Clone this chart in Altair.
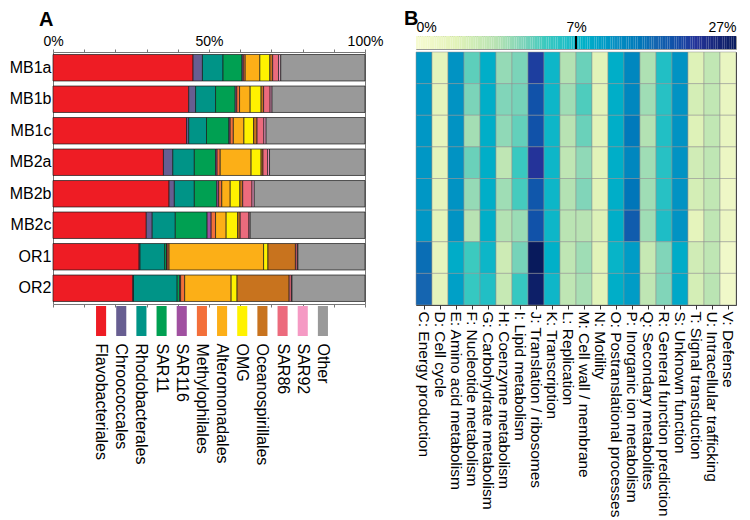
import altair as alt
import pandas as pd
import numpy as np

FONT = "Liberation Sans"

# ---------------- Panel A data ----------------
samples = ["MB1a", "MB1b", "MB1c", "MB2a", "MB2b", "MB2c", "OR1", "OR2"]
taxa = ["Flavobacteriales", "Chroococcales", "Rhodobacterales", "SAR11", "SAR116",
        "Methylophilales", "Alteromonadales", "OMG", "Oceanospirillales", "SAR86",
        "SAR92", "Other"]
taxon_colors = ["#ee1c24", "#675e91", "#009487", "#00a052", "#a050a0", "#f36f3a",
                "#fcaf17", "#fff200", "#c8731e", "#ec6b7d", "#f59ac4", "#999999"]

flavo = [44.9, 43.5, 42.8, 35.4, 37.2, 29.9, 27.6, 25.6]
chroo = [3.0, 2.2, 0.7, 3.0, 1.7, 1.9, 0.3, 0.2]
rhodo = [6.6, 6.4, 5.7, 6.9, 6.4, 7.4, 7.9, 14.0]
sar11 = [6.1, 6.3, 7.2, 6.8, 7.2, 10.2, 0.6, 0.8]
sar116 = [0.4, 0.5, 0.4, 0.5, 0.6, 1.3, 0.2, 0.3]
methyl = [0.6, 0.9, 1.0, 1.0, 1.0, 1.4, 0.6, 1.3]
altero = [4.7, 3.4, 3.4, 9.9, 2.7, 3.4, 30.3, 14.9]
omg = [3.2, 3.5, 3.1, 3.2, 3.1, 3.7, 1.4, 1.9]
oceano = [0.9, 0.8, 1.1, 0.6, 0.9, 0.8, 8.8, 16.7]
sar86 = [1.9, 2.1, 2.2, 1.5, 3.0, 2.8, 0.6, 0.7]
sar92 = [0.7, 0.6, 0.7, 0.6, 0.7, 0.4, 0.2, 0.2]
other = [27.0, 29.8, 31.7, 30.6, 35.5, 36.8, 21.5, 23.4]

series = [flavo, chroo, rhodo, sar11, sar116, methyl, altero, omg, oceano, sar86, sar92, other]

x_ticks = [0, 10, 20, 30, 40, 50, 60, 70, 80, 90, 100]

# ---------------- Panel B data ----------------
cogs = ["C: Energy production", "D: Cell cycle", "E: Amino acid metabolism",
        "F: Nucleotide metabolism", "G: Carbohydrate metabolism", "H: Coenzyme metabolism",
        "I: Lipid metabolism", "J: Translation / ribosomes", "K: Transcription",
        "L: Replication", "M: Cell wall / membrane", "N: Motility",
        "O: Postranslational processes", "P: Inorganic ion metabolism",
        "Q: Secondary metabolites", "R: General function prediction",
        "S: Unknown function", "T: Signal transduction", "U: Intracellular trafficking",
        "V: Defense"]

cog_C = [11, 11, 11, 11, 11, 11, 16, 17]
cog_D = [1.5, 1.5, 1.4, 1.5, 1.5, 1.6, 1.4, 1.5]
cog_E = [11.5, 11.5, 11.5, 11.5, 11.5, 11.5, 8.5, 10]
cog_F = [5.2, 4.7, 3.9, 5.0, 4.2, 3.5, 5.6, 5.8]
cog_G = [8.2, 8.2, 8.2, 8.2, 8.2, 8.2, 7.3, 6.5]
cog_H = [4.2, 4.6, 4.3, 3.2, 4.0, 3.6, 2.6, 2.9]
cog_I = [4.7, 4.8, 5.1, 5.7, 5.5, 4.1, 4.8, 5.8]
cog_J = [21, 19, 19, 22, 18.5, 19, 27, 26]
cog_K = [7.3, 7.3, 7.3, 7.3, 7.3, 7.3, 8.0, 7.2]
cog_L = [3.6, 4.0, 3.5, 3.2, 3.6, 3.4, 3.2, 3.2]
cog_M = [5.0, 5.4, 5.0, 4.3, 4.6, 3.5, 4.0, 3.8]
cog_N = [1.8, 1.8, 1.8, 1.8, 1.8, 2.0, 1.8, 1.8]
cog_O = [8.3, 8.3, 8.3, 8.3, 8.3, 8.3, 7.5, 8.3]
cog_P = [13, 13, 14.5, 13, 15, 18, 10.5, 10.5]
cog_Q = [3.7, 4.0, 3.6, 4.0, 4.0, 4.0, 2.9, 3.2]
cog_R = [6.5, 6.3, 6.5, 6.3, 6.3, 6.6, 4.6, 4.6]
cog_S = [11.5, 11.5, 11.5, 11.5, 11.5, 11.5, 8.5, 9]
cog_T = [1.9, 2.3, 1.9, 2.5, 2.3, 1.5, 2.5, 2.3]
cog_U = [3.1, 3.1, 3.1, 3.2, 3.1, 3.2, 3.2, 3.4]
cog_V = [1.2, 1.2, 1.2, 1.0, 0.8, 1.0, 0.6, 0.6]

cog_series = [cog_C, cog_D, cog_E, cog_F, cog_G, cog_H, cog_I, cog_J, cog_K, cog_L,
              cog_M, cog_N, cog_O, cog_P, cog_Q, cog_R, cog_S, cog_T, cog_U, cog_V]

heat_domain = [0, 1.75, 3.5, 4.5, 5.6, 7, 12, 17, 22, 27]
heat_colors = ["#f7fbd2", "#e2f3b9", "#b8e3b3", "#86d6b9", "#3ccabf", "#14b8c8",
               "#0c8fc2", "#1565b0", "#243399", "#081a5c"]
cbar_ticks = [0, 7, 27]

# ---------------- tables ----------------
rows = []
for si, s in enumerate(samples):
    acc = 0.0
    for ti, t in enumerate(taxa):
        v = series[ti][si]
        rows.append({"sample": s, "taxon": t, "start": acc, "end": acc + v})
        acc += v
bar_df = pd.DataFrame(rows)
leg_df = pd.DataFrame({"taxon_l": taxa})

hm_rows = []
for ci, c in enumerate(cogs):
    for si, s in enumerate(samples):
        hm_rows.append({"cog": c, "sample": s, "val": cog_series[ci][si]})
hm_df = pd.DataFrame(hm_rows)

# colour-bar strip (gradient samples across the piecewise scale)
edges = np.concatenate([np.linspace(0, 7, 71), np.linspace(7, 27, 71)[1:]])
cb_df = pd.DataFrame({"v0": edges[:-1], "v1": edges[1:], "vm": (edges[:-1] + edges[1:]) / 2})

heat_scale = alt.Scale(domain=heat_domain, range=heat_colors, clamp=True)
tax_scale = alt.Scale(domain=taxa, range=taxon_colors)

# ---------------- Panel A ----------------
bars = alt.Chart(bar_df).mark_bar(stroke="#1a1a1a", strokeWidth=0.7).encode(
    x=alt.X("start:Q", scale=alt.Scale(domain=[0, 100], nice=False),
            axis=alt.Axis(orient="top", values=x_ticks, title=None, grid=False, domain=False,
                          labelExpr="datum.value % 50 == 0 ? datum.value + '%' : ''",
                          labelFontSize=14, labelFlush=False, labelPadding=1,
                          tickSize=3, tickColor="#777")),
    x2="end:Q",
    y=alt.Y("sample:N", sort=samples, scale=alt.Scale(paddingInner=0.16, paddingOuter=0.08),
            axis=alt.Axis(title=None, labelFontSize=16, domain=False, ticks=False,
                          labelPadding=2, labelColor="black")),
    color=alt.Color("taxon:N", scale=tax_scale, legend=None),
)
bars_bottom = alt.Chart(bar_df).mark_bar(opacity=0).encode(
    x=alt.X("start:Q", scale=alt.Scale(domain=[0, 100], nice=False),
            axis=alt.Axis(orient="bottom", values=x_ticks, title=None, labels=False,
                          grid=False, domain=False, tickSize=3, tickColor="#777")),
    x2="end:Q",
)
panel_a = alt.layer(bars, bars_bottom).properties(
    width=312, height=252,
    title=alt.TitleParams("A", anchor="start", frame="group", fontSize=20, fontWeight="bold",
                          dx=-14, offset=4, font=FONT),
    view=alt.ViewBackground(stroke="#777", strokeWidth=1),
)

spacer = alt.Chart(pd.DataFrame({"s": [0]})).mark_point(opacity=0).encode(
    opacity=alt.value(0)).properties(width=312, height=1, view=alt.ViewBackground(stroke=None))

legend = alt.Chart(leg_df).mark_rect().encode(
    x=alt.X("taxon_l:N", sort=taxa,
            scale=alt.Scale(range=[38, 280], paddingInner=0.5, paddingOuter=0.25),
            axis=alt.Axis(title=None, labelAngle=90, labelAlign="left", labelBaseline="middle",
                          labelFontSize=16, labelPadding=7, ticks=False, domain=False,
                          labelLimit=400, labelColor="black")),
    color=alt.Color("taxon_l:N", scale=tax_scale, legend=None),
).properties(width=312, height=30, view=alt.ViewBackground(stroke=None))

bars_and_legend = alt.vconcat(panel_a, legend, spacing=2, bounds="flush")
left = alt.vconcat(spacer, bars_and_legend, spacing=15, bounds="flush")

# ---------------- Panel B ----------------
cbar = alt.Chart(cb_df).mark_rect().encode(
    x=alt.X("v0:Q", scale=alt.Scale(domain=cbar_ticks, range=[0, 160, 320], nice=False),
            axis=alt.Axis(orient="top", values=cbar_ticks, labelExpr="datum.value + '%'",
                          title=None, ticks=False, domain=False, grid=False,
                          labelFontSize=14, labelPadding=2, labelFlush=True)),
    x2="v1:Q",
    color=alt.Color("vm:Q", scale=heat_scale, legend=None),
)
cbar_tick = alt.Chart(pd.DataFrame({"v": [cbar_ticks[1]]})).mark_rule(
    color="black", strokeWidth=2).encode(x="v:Q")
panel_cb = alt.layer(cbar, cbar_tick).properties(
    width=320, height=13,
    title=alt.TitleParams("B", anchor="start", frame="group", fontSize=20, fontWeight="bold",
                          dx=-12, offset=-9, font=FONT),
    view=alt.ViewBackground(stroke="#999", strokeWidth=1),
)

heat = alt.Chart(hm_df).mark_rect(stroke="#8c8c8c", strokeWidth=0.5).encode(
    x=alt.X("cog:N", sort=cogs, scale=alt.Scale(paddingInner=0, paddingOuter=0),
            axis=alt.Axis(title=None, labelAngle=90, labelAlign="left", labelBaseline="middle",
                          labelFontSize=15.5, labelLimit=400, tickSize=4, tickColor="#333",
                          labelPadding=2, domain=False, labelColor="black")),
    y=alt.Y("sample:N", sort=samples, axis=None),
    color=alt.Color("val:Q", scale=heat_scale, legend=None),
).properties(width=320, height=253, view=alt.ViewBackground(stroke="#333", strokeWidth=1))

right = alt.vconcat(panel_cb, heat, spacing=3, bounds="flush")

chart = alt.hconcat(left, right, spacing=19).resolve_scale(color="independent").properties(
    padding=0
).configure(font=FONT).configure_axis(labelFont=FONT)

chart.save("out.html", embed_options={"renderer": "svg", "actions": False})
